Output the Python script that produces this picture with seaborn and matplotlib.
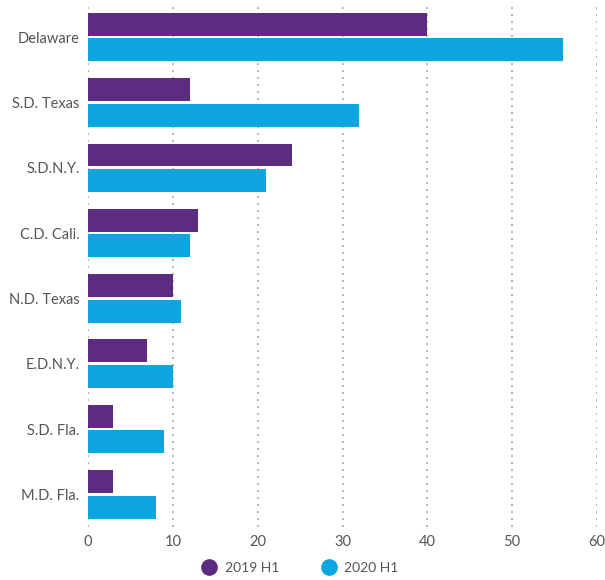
import matplotlib
matplotlib.use("Agg")
import matplotlib.pyplot as plt
import seaborn as sns
import pandas as pd
from matplotlib.lines import Line2D

categories = ["Delaware", "S.D. Texas", "S.D.N.Y.", "C.D. Cali.", "N.D. Texas", "E.D.N.Y.", "S.D. Fla.", "M.D. Fla."]
series_names = ["2019 H1", "2020 H1"]
values_2019 = [40, 12, 24, 13, 10, 7, 3, 3]
values_2020 = [56, 32, 21, 12, 11, 10, 9, 8]
x_ticks = [0, 10, 20, 30, 40, 50, 60]
colors = ["#5B2C80", "#0CA5DF"]

df = pd.DataFrame({
    "court": categories * 2,
    "period": [series_names[0]] * len(categories) + [series_names[1]] * len(categories),
    "value": values_2019 + values_2020,
})

sns.set_theme(style="white")
plt.rcParams["font.family"] = ["Lato", "DejaVu Sans"]

fig = plt.figure(figsize=(6.05, 5.8), dpi=100)
ax = fig.add_axes([88/605, 1 - 527/580, (597-88)/605, (527-4.4)/580])

sns.barplot(data=df, y="court", x="value", hue="period", order=categories,
            hue_order=series_names, palette=colors, orient="h", width=0.78,
            gap=0.1, saturation=1, ax=ax, legend=False, zorder=3, linewidth=0)

ax.set_xlim(0, 60)
ax.set_xticks(x_ticks)
ax.set_xticklabels([str(t) for t in x_ticks])
ax.set_xlabel("")
ax.set_ylabel("")
for s in ax.spines.values():
    s.set_visible(False)
ax.grid(axis="x", color="#b5b5b5", linewidth=1.4, linestyle=(0, (1, 2.6)), zorder=0)
ax.grid(axis="y", visible=False)
ax.set_axisbelow(True)
ax.tick_params(axis="both", length=0, colors="#555555", labelsize=10.5)
ax.tick_params(axis="y", pad=6)
ax.tick_params(axis="x", pad=6)

handles = [Line2D([0], [0], marker="o", linestyle="", markersize=11,
                  markerfacecolor=c, markeredgecolor=c) for c in colors]
fig.legend(handles, series_names, loc="center", bbox_to_anchor=(297/605, 1 - 568/580),
           ncol=2, frameon=False, fontsize=10, labelcolor="#555555",
           handletextpad=0.1, columnspacing=2.6)

fig.savefig("out.png", dpi=100)
